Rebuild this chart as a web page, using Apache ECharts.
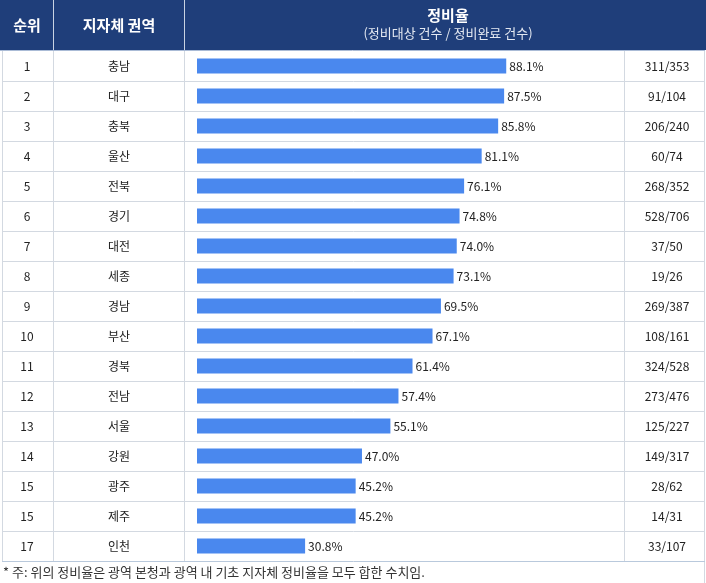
<!DOCTYPE html>
<html><head><meta charset="utf-8">
<script src="https://cdn.jsdelivr.net/npm/echarts@6/dist/echarts.min.js"></script>
<style>html,body{margin:0;padding:0;background:#fff}#c{width:706px;height:583px}</style>
</head><body><div id="c"></div>
<script>
const ranks = ['1','2','3','4','5','6','7','8','9','10','11','12','13','14','15','15','17'];
const regions = ['충남','대구','충북','울산','전북','경기','대전','세종','경남','부산','경북','전남','서울','강원','광주','제주','인천'];
const rates = [88.1,87.5,85.8,81.1,76.1,74.8,74.0,73.1,69.5,67.1,61.4,57.4,55.1,47.0,45.2,45.2,30.8];
const counts = ['311/353','91/104','206/240','60/74','268/352','528/706','37/50','19/26','269/387','108/161','324/528','273/476','125/227','149/317','28/62','14/31','33/107'];
const headers = ['순위','지자체 권역','정비율','(정비대상 건수 / 정비완료 건수)'];
const footnote = '* 주: 위의 정비율은 광역 본청과 광역 내 기초 지자체 정비율을 모두 합한 수치임.';

const FONT = '"Noto Sans CJK KR", "Noto Sans", sans-serif';
const W = 706, gridTop = 51, rowH = 30, n = regions.length, tableBottom = gridTop + rowH * n;
const colX = [2.5, 53.5, 184.5, 624.5, 704.5];
const lineC = '#d3d9e1';

const g = [];
g.push({type:'rect', shape:{x:0,y:0,width:W,height:50}, style:{fill:'#1f3e7a'}, z:0});
g.push({type:'line', shape:{x1:0,y1:50.5,x2:705,y2:50.5}, style:{stroke:'#aabbd6',lineWidth:1}});
[53.5,184.5].forEach(x=>g.push({type:'line', shape:{x1:x,y1:0,x2:x,y2:50}, style:{stroke:'#c9d3e3',lineWidth:1}}));
colX.forEach(x=>g.push({type:'line', shape:{x1:x,y1:51,x2:x,y2:tableBottom}, style:{stroke:lineC,lineWidth:1}}));
g.push({type:'line', shape:{x1:704.5,y1:tableBottom,x2:704.5,y2:583}, style:{stroke:lineC,lineWidth:1}});
for(let i=1;i<=n;i++){
  const y = gridTop + rowH*i + 0.5;
  g.push({type:'line', shape:{x1:2,y1:y,x2:705,y2:y}, style:{stroke: i===n ? '#b9c9dc' : lineC, lineWidth:1}});
}
const hs = {fill:'#fff', font:'bold 15px '+FONT, textAlign:'center', textVerticalAlign:'middle'};
g.push({type:'text', x:27, y:25, style:Object.assign({text:headers[0]}, hs)});
g.push({type:'text', x:119, y:25, style:Object.assign({text:headers[1]}, hs)});
g.push({type:'text', x:448, y:15, style:Object.assign({text:headers[2]}, hs)});
g.push({type:'text', x:448, y:33, style:{text:headers[3], fill:'#e3e8f1', font:'13px '+FONT, textAlign:'center', textVerticalAlign:'middle'}});
g.push({type:'text', x:3, y:572, style:{text:footnote, fill:'#333', font:'13px '+FONT, textAlign:'left', textVerticalAlign:'middle'}});

const catAxis = (data, pos, offset) => ({
  type:'category', data:data, inverse:true, position:pos, offset:offset,
  axisLine:{show:false}, axisTick:{show:false}, splitLine:{show:false},
  axisLabel:{margin:20, align:'center', color:'#222', fontSize:12, fontFamily:FONT, interval:0}
});

const chart = echarts.init(document.getElementById('c'));
chart.setOption({
  animation:false,
  grid:{left:197, top:gridTop, width:351, height:rowH*n},
  xAxis:{type:'value', min:0, max:100, show:false},
  yAxis:[catAxis(ranks,'left',150), catAxis(regions,'left',58), catAxis(counts,'right',99)],
  series:[{
    type:'bar', data:rates, yAxisIndex:1, barWidth:15, itemStyle:{color:'#4a88ee'},
    label:{show:true, position:'right', distance:3, color:'#222', fontSize:12, fontFamily:FONT,
      formatter:p=>p.value.toFixed(1)+'%'}
  }],
  graphic:g
});
</script></body></html>
